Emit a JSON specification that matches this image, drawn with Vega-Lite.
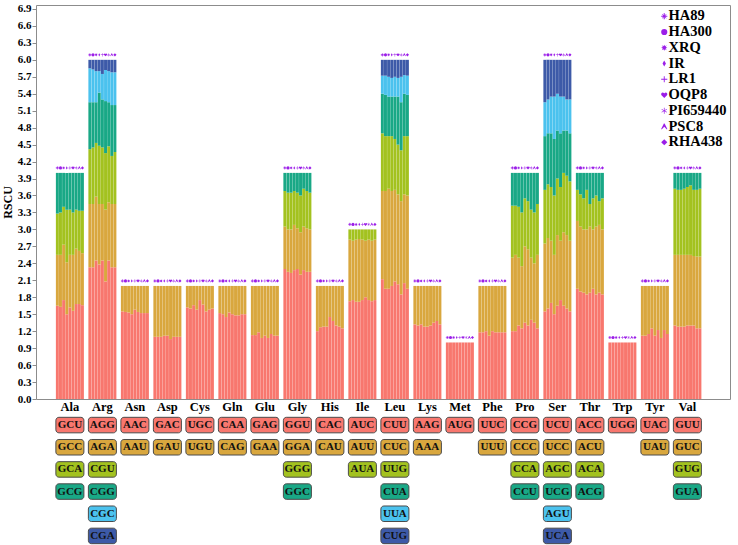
{
  "$schema": "https://vega.github.io/schema/vega-lite/v6.json",
  "padding": {"left": 0, "top": 2, "right": 8, "bottom": 0},
  "bounds": "flush",
  "spacing": 15,
  "background": "white",
  "config": {
    "font": "Liberation Serif",
    "axis": {"labelFont": "Liberation Serif", "titleFont": "Liberation Serif", "labelFontWeight": "bold", "titleFontWeight": "bold", "labelColor": "#000", "titleColor": "#000", "grid": false},
    "legend": {"labelFont": "Liberation Serif", "labelFontWeight": "bold", "labelFontSize": 14.5, "labelColor": "#000"}
  },
  "datasets": {
    "rscu": [
      {"aa":"Ala","r":1,"codon":"GCU","HA89":1.65,"HA300":1.63,"XRQ":1.75,"IR":1.50,"LR1":1.62,"OQP8":1.56,"PI659440":1.68,"PSC8":1.68,"RHA438":1.66},
      {"aa":"Ala","r":2,"codon":"GCC","HA89":0.90,"HA300":0.92,"XRQ":0.98,"IR":0.92,"LR1":0.93,"OQP8":0.99,"PI659440":0.98,"PSC8":0.94,"RHA438":0.92},
      {"aa":"Ala","r":3,"codon":"GCA","HA89":0.73,"HA300":0.75,"XRQ":0.67,"IR":0.93,"LR1":0.80,"OQP8":0.75,"PI659440":0.69,"PSC8":0.71,"RHA438":0.75},
      {"aa":"Ala","r":4,"codon":"GCG","HA89":0.72,"HA300":0.70,"XRQ":0.60,"IR":0.65,"LR1":0.65,"OQP8":0.70,"PI659440":0.65,"PSC8":0.67,"RHA438":0.67},
      {"aa":"Arg","r":1,"codon":"AGG","HA89":2.33,"HA300":2.33,"XRQ":2.45,"IR":2.38,"LR1":2.45,"OQP8":2.08,"PI659440":2.45,"PSC8":2.33,"RHA438":2.33},
      {"aa":"Arg","r":2,"codon":"AGA","HA89":1.12,"HA300":1.12,"XRQ":1.13,"IR":1.07,"LR1":1.00,"OQP8":1.27,"PI659440":1.03,"PSC8":1.12,"RHA438":1.12},
      {"aa":"Arg","r":3,"codon":"CGU","HA89":0.97,"HA300":1.00,"XRQ":0.95,"IR":1.03,"LR1":1.00,"OQP8":1.00,"PI659440":0.99,"PSC8":0.85,"RHA438":0.92},
      {"aa":"Arg","r":4,"codon":"CGG","HA89":0.83,"HA300":0.80,"XRQ":0.72,"IR":0.94,"LR1":0.85,"OQP8":0.92,"PI659440":0.78,"PSC8":0.90,"RHA438":0.83},
      {"aa":"Arg","r":5,"codon":"CGC","HA89":0.60,"HA300":0.58,"XRQ":0.55,"IR":0.38,"LR1":0.45,"OQP8":0.55,"PI659440":0.55,"PSC8":0.58,"RHA438":0.58},
      {"aa":"Arg","r":6,"codon":"CGA","HA89":0.15,"HA300":0.17,"XRQ":0.20,"IR":0.20,"LR1":0.25,"OQP8":0.18,"PI659440":0.20,"PSC8":0.22,"RHA438":0.22},
      {"aa":"Asn","r":1,"codon":"AAC","HA89":1.55,"HA300":1.54,"XRQ":1.53,"IR":1.50,"LR1":1.58,"OQP8":1.54,"PI659440":1.52,"PSC8":1.52,"RHA438":1.52},
      {"aa":"Asn","r":2,"codon":"AAU","HA89":0.45,"HA300":0.46,"XRQ":0.47,"IR":0.50,"LR1":0.42,"OQP8":0.46,"PI659440":0.48,"PSC8":0.48,"RHA438":0.48},
      {"aa":"Asp","r":1,"codon":"GAC","HA89":1.10,"HA300":1.10,"XRQ":1.10,"IR":1.12,"LR1":1.12,"OQP8":1.06,"PI659440":1.10,"PSC8":1.10,"RHA438":1.10},
      {"aa":"Asp","r":2,"codon":"GAU","HA89":0.90,"HA300":0.90,"XRQ":0.90,"IR":0.88,"LR1":0.88,"OQP8":0.94,"PI659440":0.90,"PSC8":0.90,"RHA438":0.90},
      {"aa":"Cys","r":1,"codon":"UGC","HA89":1.62,"HA300":1.60,"XRQ":1.66,"IR":1.58,"LR1":1.75,"OQP8":1.67,"PI659440":1.55,"PSC8":1.58,"RHA438":1.60},
      {"aa":"Cys","r":2,"codon":"UGU","HA89":0.38,"HA300":0.40,"XRQ":0.34,"IR":0.42,"LR1":0.25,"OQP8":0.33,"PI659440":0.45,"PSC8":0.42,"RHA438":0.40},
      {"aa":"Gln","r":1,"codon":"CAA","HA89":1.52,"HA300":1.50,"XRQ":1.45,"IR":1.53,"LR1":1.50,"OQP8":1.48,"PI659440":1.48,"PSC8":1.50,"RHA438":1.50},
      {"aa":"Gln","r":2,"codon":"CAG","HA89":0.48,"HA300":0.50,"XRQ":0.55,"IR":0.47,"LR1":0.50,"OQP8":0.52,"PI659440":0.52,"PSC8":0.50,"RHA438":0.50},
      {"aa":"Glu","r":1,"codon":"GAG","HA89":1.13,"HA300":1.13,"XRQ":1.18,"IR":1.08,"LR1":1.12,"OQP8":1.08,"PI659440":1.15,"PSC8":1.12,"RHA438":1.12},
      {"aa":"Glu","r":2,"codon":"GAA","HA89":0.87,"HA300":0.87,"XRQ":0.82,"IR":0.92,"LR1":0.88,"OQP8":0.92,"PI659440":0.85,"PSC8":0.88,"RHA438":0.88},
      {"aa":"Gly","r":1,"codon":"GGU","HA89":2.30,"HA300":2.25,"XRQ":2.23,"IR":2.28,"LR1":2.30,"OQP8":2.20,"PI659440":2.28,"PSC8":2.25,"RHA438":2.25},
      {"aa":"Gly","r":2,"codon":"GGA","HA89":0.75,"HA300":0.75,"XRQ":0.77,"IR":0.80,"LR1":0.72,"OQP8":0.75,"PI659440":0.77,"PSC8":0.77,"RHA438":0.75},
      {"aa":"Gly","r":3,"codon":"GGG","HA89":0.63,"HA300":0.65,"XRQ":0.65,"IR":0.60,"LR1":0.63,"OQP8":0.65,"PI659440":0.67,"PSC8":0.66,"RHA438":0.65},
      {"aa":"Gly","r":4,"codon":"GGC","HA89":0.32,"HA300":0.35,"XRQ":0.35,"IR":0.32,"LR1":0.35,"OQP8":0.40,"PI659440":0.28,"PSC8":0.32,"RHA438":0.35},
      {"aa":"His","r":1,"codon":"CAC","HA89":1.20,"HA300":1.27,"XRQ":1.28,"IR":1.28,"LR1":1.45,"OQP8":1.38,"PI659440":1.30,"PSC8":1.28,"RHA438":1.25},
      {"aa":"His","r":2,"codon":"CAU","HA89":0.80,"HA300":0.73,"XRQ":0.72,"IR":0.72,"LR1":0.55,"OQP8":0.62,"PI659440":0.70,"PSC8":0.72,"RHA438":0.75},
      {"aa":"Ile","r":1,"codon":"AUC","HA89":1.73,"HA300":1.75,"XRQ":1.72,"IR":1.72,"LR1":1.75,"OQP8":1.80,"PI659440":1.75,"PSC8":1.73,"RHA438":1.75},
      {"aa":"Ile","r":2,"codon":"AUU","HA89":1.09,"HA300":1.05,"XRQ":1.10,"IR":1.11,"LR1":1.07,"OQP8":1.00,"PI659440":1.07,"PSC8":1.07,"RHA438":1.07},
      {"aa":"Ile","r":3,"codon":"AUA","HA89":0.18,"HA300":0.20,"XRQ":0.18,"IR":0.17,"LR1":0.18,"OQP8":0.20,"PI659440":0.18,"PSC8":0.20,"RHA438":0.18},
      {"aa":"Leu","r":1,"codon":"CUU","HA89":2.12,"HA300":1.95,"XRQ":1.95,"IR":2.00,"LR1":2.08,"OQP8":2.03,"PI659440":1.85,"PSC8":2.05,"RHA438":1.95},
      {"aa":"Leu","r":2,"codon":"CUC","HA89":1.56,"HA300":1.73,"XRQ":1.77,"IR":1.68,"LR1":1.62,"OQP8":1.59,"PI659440":1.65,"PSC8":1.57,"RHA438":1.65},
      {"aa":"Leu","r":3,"codon":"UUG","HA89":1.02,"HA300":0.97,"XRQ":0.93,"IR":0.97,"LR1":0.90,"OQP8":0.88,"PI659440":0.90,"PSC8":1.03,"RHA438":1.05},
      {"aa":"Leu","r":4,"codon":"CUA","HA89":0.70,"HA300":0.73,"XRQ":0.70,"IR":0.70,"LR1":0.75,"OQP8":0.85,"PI659440":0.85,"PSC8":0.75,"RHA438":0.73},
      {"aa":"Leu","r":5,"codon":"UUA","HA89":0.32,"HA300":0.34,"XRQ":0.35,"IR":0.33,"LR1":0.35,"OQP8":0.33,"PI659440":0.45,"PSC8":0.33,"RHA438":0.34},
      {"aa":"Leu","r":6,"codon":"CUG","HA89":0.28,"HA300":0.28,"XRQ":0.30,"IR":0.32,"LR1":0.30,"OQP8":0.32,"PI659440":0.30,"PSC8":0.27,"RHA438":0.28},
      {"aa":"Lys","r":1,"codon":"AAG","HA89":1.32,"HA300":1.30,"XRQ":1.32,"IR":1.28,"LR1":1.28,"OQP8":1.30,"PI659440":1.35,"PSC8":1.38,"RHA438":1.32},
      {"aa":"Lys","r":2,"codon":"AAA","HA89":0.68,"HA300":0.70,"XRQ":0.68,"IR":0.72,"LR1":0.72,"OQP8":0.70,"PI659440":0.65,"PSC8":0.62,"RHA438":0.68},
      {"aa":"Met","r":1,"codon":"AUG","HA89":1,"HA300":1,"XRQ":1,"IR":1,"LR1":1,"OQP8":1,"PI659440":1,"PSC8":1,"RHA438":1},
      {"aa":"Phe","r":1,"codon":"UUC","HA89":1.18,"HA300":1.18,"XRQ":1.20,"IR":1.12,"LR1":1.20,"OQP8":1.18,"PI659440":1.18,"PSC8":1.18,"RHA438":1.18},
      {"aa":"Phe","r":2,"codon":"UUU","HA89":0.82,"HA300":0.82,"XRQ":0.80,"IR":0.88,"LR1":0.80,"OQP8":0.82,"PI659440":0.82,"PSC8":0.82,"RHA438":0.82},
      {"aa":"Pro","r":1,"codon":"CCG","HA89":1.20,"HA300":1.20,"XRQ":1.30,"IR":1.25,"LR1":1.35,"OQP8":1.30,"PI659440":1.40,"PSC8":1.35,"RHA438":1.25},
      {"aa":"Pro","r":2,"codon":"CCC","HA89":1.30,"HA300":1.35,"XRQ":1.20,"IR":1.10,"LR1":1.35,"OQP8":1.35,"PI659440":1.10,"PSC8":1.05,"RHA438":1.30},
      {"aa":"Pro","r":3,"codon":"CCA","HA89":0.92,"HA300":0.87,"XRQ":0.90,"IR":0.95,"LR1":0.85,"OQP8":0.85,"PI659440":0.85,"PSC8":0.90,"RHA438":0.90},
      {"aa":"Pro","r":4,"codon":"CCU","HA89":0.58,"HA300":0.58,"XRQ":0.60,"IR":0.70,"LR1":0.45,"OQP8":0.50,"PI659440":0.65,"PSC8":0.70,"RHA438":0.55},
      {"aa":"Ser","r":1,"codon":"UCU","HA89":1.55,"HA300":1.60,"XRQ":1.70,"IR":1.50,"LR1":1.65,"OQP8":1.75,"PI659440":1.65,"PSC8":1.60,"RHA438":1.55},
      {"aa":"Ser","r":2,"codon":"UCC","HA89":1.20,"HA300":1.25,"XRQ":1.10,"IR":1.05,"LR1":1.25,"OQP8":1.05,"PI659440":1.30,"PSC8":1.30,"RHA438":1.25},
      {"aa":"Ser","r":3,"codon":"AGC","HA89":0.95,"HA300":0.95,"XRQ":0.95,"IR":1.05,"LR1":1.00,"OQP8":0.95,"PI659440":1.05,"PSC8":1.05,"RHA438":1.05},
      {"aa":"Ser","r":4,"codon":"UCG","HA89":0.95,"HA300":0.90,"XRQ":0.95,"IR":1.00,"LR1":0.85,"OQP8":0.95,"PI659440":0.75,"PSC8":0.80,"RHA438":0.85},
      {"aa":"Ser","r":5,"codon":"AGU","HA89":0.60,"HA300":0.60,"XRQ":0.65,"IR":0.75,"LR1":0.65,"OQP8":0.65,"PI659440":0.60,"PSC8":0.55,"RHA438":0.60},
      {"aa":"Ser","r":6,"codon":"UCA","HA89":0.75,"HA300":0.70,"XRQ":0.65,"IR":0.65,"LR1":0.60,"OQP8":0.65,"PI659440":0.65,"PSC8":0.70,"RHA438":0.70},
      {"aa":"Thr","r":1,"codon":"ACC","HA89":1.95,"HA300":1.90,"XRQ":1.88,"IR":1.85,"LR1":1.88,"OQP8":1.95,"PI659440":1.85,"PSC8":1.88,"RHA438":1.85},
      {"aa":"Thr","r":2,"codon":"ACU","HA89":1.20,"HA300":1.15,"XRQ":1.12,"IR":1.15,"LR1":1.17,"OQP8":1.05,"PI659440":1.20,"PSC8":1.20,"RHA438":1.15},
      {"aa":"Thr","r":3,"codon":"ACA","HA89":0.55,"HA300":0.57,"XRQ":0.55,"IR":0.70,"LR1":0.40,"OQP8":0.55,"PI659440":0.55,"PSC8":0.42,"RHA438":0.55},
      {"aa":"Thr","r":4,"codon":"ACG","HA89":0.30,"HA300":0.38,"XRQ":0.45,"IR":0.30,"LR1":0.55,"OQP8":0.45,"PI659440":0.40,"PSC8":0.50,"RHA438":0.45},
      {"aa":"Trp","r":1,"codon":"UGG","HA89":1,"HA300":1,"XRQ":1,"IR":1,"LR1":1,"OQP8":1,"PI659440":1,"PSC8":1,"RHA438":1},
      {"aa":"Tyr","r":1,"codon":"UAC","HA89":1.12,"HA300":1.12,"XRQ":1.15,"IR":1.25,"LR1":1.12,"OQP8":1.22,"PI659440":1.08,"PSC8":1.22,"RHA438":1.15},
      {"aa":"Tyr","r":2,"codon":"UAU","HA89":0.88,"HA300":0.88,"XRQ":0.85,"IR":0.75,"LR1":0.88,"OQP8":0.78,"PI659440":0.92,"PSC8":0.78,"RHA438":0.85},
      {"aa":"Val","r":1,"codon":"GUU","HA89":1.30,"HA300":1.28,"XRQ":1.28,"IR":1.28,"LR1":1.30,"OQP8":1.30,"PI659440":1.30,"PSC8":1.25,"RHA438":1.25},
      {"aa":"Val","r":2,"codon":"GUC","HA89":1.25,"HA300":1.27,"XRQ":1.27,"IR":1.27,"LR1":1.25,"OQP8":1.25,"PI659440":1.23,"PSC8":1.27,"RHA438":1.27},
      {"aa":"Val","r":3,"codon":"GUG","HA89":1.17,"HA300":1.15,"XRQ":1.15,"IR":1.17,"LR1":1.20,"OQP8":1.23,"PI659440":1.17,"PSC8":1.18,"RHA438":1.20},
      {"aa":"Val","r":4,"codon":"GUA","HA89":0.28,"HA300":0.30,"XRQ":0.30,"IR":0.28,"LR1":0.25,"OQP8":0.22,"PI659440":0.30,"PSC8":0.30,"RHA438":0.28}
    ]
  },
  "vconcat": [
    {
      "width": 694,
      "height": 394,
      "view": {"stroke": "#8c8c8c", "strokeWidth": 1},
      "data": {"name": "rscu"},
      "transform": [{"fold": ["HA89","HA300","XRQ","IR","LR1","OQP8","PI659440","PSC8","RHA438"], "as": ["species","value"]}],
      "encoding": {
        "x": {"field": "aa", "type": "nominal", "sort": ["Ala","Arg","Asn","Asp","Cys","Gln","Glu","Gly","His","Ile","Leu","Lys","Met","Phe","Pro","Ser","Thr","Trp","Tyr","Val"], "scale": {"type": "band", "paddingInner": 0.138, "paddingOuter": 0.746, "align": 0.41}, "axis": null},
        "xOffset": {"field": "species", "type": "nominal", "sort": ["HA89","HA300","XRQ","IR","LR1","OQP8","PI659440","PSC8","RHA438"], "scale": {"paddingInner": 0.06, "paddingOuter": 0}}
      },
      "layer": [
        {
          "mark": {"type": "bar"},
          "encoding": {
            "y": {"field": "value", "type": "quantitative", "stack": "zero", "title": "RSCU",
              "scale": {"domain": [0, 6.97], "nice": false, "zero": true},
              "axis": {"values": [0,0.3,0.6,0.9,1.2,1.5,1.8,2.1,2.4,2.7,3.0,3.3,3.6,3.9,4.2,4.5,4.8,5.1,5.4,5.7,6.0,6.3,6.6,6.9], "format": ".1f", "labelOverlap": false, "labelFontSize": 11, "titleFontSize": 12, "domain": false, "tickColor": "#8c8c8c", "tickSize": 4, "labelPadding": 1, "titlePadding": 3}},
            "color": {"field": "r", "type": "ordinal", "scale": {"domain": [1,2,3,4,5,6], "range": ["#F8776E","#D9A73E","#A3C21F","#19A886","#4BC2EE","#3D5AA8"]}, "legend": null},
            "order": {"field": "r", "type": "quantitative", "sort": "ascending"}
          }
        },
        {
          "mark": {"type": "point", "filled": true, "size": 10, "opacity": 1, "color": "#9b1ee8", "yOffset": -5},
          "encoding": {
            "y": {"aggregate": "sum", "field": "value", "type": "quantitative", "stack": null, "title": "RSCU",
              "axis": {"values": [0,0.3,0.6,0.9,1.2,1.5,1.8,2.1,2.4,2.7,3.0,3.3,3.6,3.9,4.2,4.5,4.8,5.1,5.4,5.7,6.0,6.3,6.6,6.9], "format": ".1f", "labelOverlap": false, "labelFontSize": 11, "titleFontSize": 12, "domain": false, "tickColor": "#8c8c8c", "tickSize": 4, "labelPadding": 1, "titlePadding": 3}},
            "shape": {"field": "species", "type": "nominal", "sort": ["HA89","HA300","XRQ","IR","LR1","OQP8","PI659440","PSC8","RHA438"],
              "scale": {"domain": ["HA89","HA300","XRQ","IR","LR1","OQP8","PI659440","PSC8","RHA438"],
                "range": [
                  "M-0.2,-1H0.2L0.15,-0.35L0.65,-0.75L0.75,-0.65L0.35,-0.15L1,-0.2V0.2L0.35,0.15L0.75,0.65L0.65,0.75L0.15,0.35L0.2,1H-0.2L-0.15,0.35L-0.65,0.75L-0.75,0.65L-0.35,0.15L-1,0.2V-0.2L-0.35,-0.15L-0.75,-0.65L-0.65,-0.75L-0.15,-0.35Z",
                  "circle",
                  "M0,-1L0.25,-0.45L0.8,-0.8L0.45,-0.25L1,0L0.45,0.25L0.8,0.8L0.25,0.45L0,1L-0.25,0.45L-0.8,0.8L-0.45,0.25L-1,0L-0.45,-0.25L-0.8,-0.8L-0.25,-0.45Z",
                  "M0,-1L0.55,0L0,1L-0.55,0Z",
                  "M-0.15,-1H0.15V-0.15H1V0.15H0.15V1H-0.15V0.15H-1V-0.15H-0.15Z",
                  "M0,0.95L-0.9,0.05C-1.2,-0.35,-0.9,-0.85,-0.45,-0.85C-0.2,-0.85,0,-0.6,0,-0.45C0,-0.6,0.2,-0.85,0.45,-0.85C0.9,-0.85,1.2,-0.35,0.9,0.05Z",
                  "M-0.12,-1H0.12L0.1,-0.2L0.8,-0.6L0.9,-0.42L0.2,0L0.9,0.42L0.8,0.6L0.1,0.2L0.12,1H-0.12L-0.1,0.2L-0.8,0.6L-0.9,0.42L-0.2,0L-0.9,-0.42L-0.8,-0.6L-0.1,-0.2Z",
                  "M-0.12,-1H0.12L1,0.8L0.85,0.95L0,0.1L-0.85,0.95L-1,0.8Z",
                  "diamond"
                ]},
              "legend": {"orient": "none", "legendX": 621, "legendY": 4, "title": null, "symbolSize": 38, "symbolFillColor": "#9b1ee8", "symbolStrokeColor": "#9b1ee8", "symbolStrokeWidth": 0, "labelOffset": -3, "rowPadding": 0.75, "padding": 0, "labelFontSize": 14.5}}
          }
        }
      ]
    },
    {
      "width": 694,
      "height": 133,
      "view": {"stroke": null},
      "data": {"name": "rscu"},
      "encoding": {
        "x": {"field": "aa", "type": "nominal", "sort": ["Ala","Arg","Asn","Asp","Cys","Gln","Glu","Gly","His","Ile","Leu","Lys","Met","Phe","Pro","Ser","Thr","Trp","Tyr","Val"], "scale": {"type": "band", "paddingInner": 0.138, "paddingOuter": 0.746, "align": 0.41},
          "axis": {"orient": "top", "title": null, "domain": false, "ticks": false, "labelAngle": 0, "labelFontSize": 12.5, "labelPadding": 1}},
        "y": {"field": "r", "type": "ordinal", "scale": {"paddingInner": 0.3, "paddingOuter": 0.15}, "axis": null}
      },
      "layer": [
        {
          "mark": {"type": "rect", "cornerRadius": 3, "stroke": "#4a4a4a", "strokeWidth": 1},
          "encoding": {"color": {"field": "r", "type": "ordinal", "scale": {"domain": [1,2,3,4,5,6], "range": ["#F8776E","#D9A73E","#A3C21F","#19A886","#4BC2EE","#3D5AA8"]}, "legend": null}}
        },
        {
          "mark": {"type": "text", "font": "Liberation Serif", "fontWeight": "bold", "fontSize": 11, "color": "#111", "baseline": "middle"},
          "encoding": {"text": {"field": "codon"}}
        }
      ]
    }
  ]
}
